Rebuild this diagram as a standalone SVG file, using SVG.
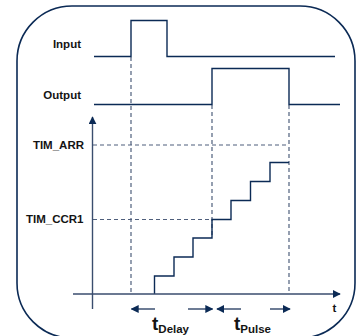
<svg xmlns="http://www.w3.org/2000/svg" width="356" height="336" viewBox="0 0 356 336">
  <style>
    .frame { fill: #ffffff; stroke: #0b2a55; stroke-width: 1.6; }
    .sig { fill: none; stroke: #0b2a55; stroke-width: 1.4; }
    .axis { fill: none; stroke: #3a4d6e; stroke-width: 1.4; }
    .dash { fill: none; stroke: #4f5f7c; stroke-width: 1.2; stroke-dasharray: 4 3; }
    .span { fill: none; stroke: #2f4468; stroke-width: 1.4; }
    .lbl { font-family: "Liberation Sans", Arial, sans-serif; font-weight: bold; fill: #141414; }
  </style>
  <defs>
    <marker id="head" viewBox="0 0 10 10" refX="9" refY="5" markerWidth="8" markerHeight="8" markerUnits="userSpaceOnUse" orient="auto">
      <path d="M0,0 L10,5 L0,10 Z" fill="#0b2a55"/>
    </marker>
  </defs>

  <rect class="frame" x="17" y="6" width="338" height="332" rx="55" ry="55"/>

  <!-- signal labels -->
  <g id="labels">
    <text class="lbl" x="81" y="48.3" font-size="11.5" text-anchor="end">Input</text>
    <text class="lbl" x="81" y="99" font-size="11.5" text-anchor="end">Output</text>
    <text class="lbl" x="84" y="149.3" font-size="11.5" text-anchor="end">TIM_ARR</text>
    <text class="lbl" x="83.5" y="223" font-size="11.5" text-anchor="end">TIM_CCR1</text>
    <text class="lbl" x="334.5" y="312" font-size="11.5" text-anchor="middle">t</text>
    <text class="lbl" x="152" y="330" font-size="19">t<tspan font-size="11.5" dy="3.3">Delay</tspan></text>
    <text class="lbl" x="234" y="330" font-size="19">t<tspan font-size="11.5" dy="3.3">Pulse</tspan></text>
  </g>

  <!-- reference levels and edge markers -->
  <g id="guides">
    <line class="dash" x1="131" y1="57" x2="131" y2="294"/>
    <line class="dash" x1="212" y1="105" x2="212" y2="238"/>
    <line class="dash" x1="289" y1="105" x2="289" y2="294"/>
    <line class="dash" x1="93" y1="145" x2="289" y2="145"/>
    <line class="dash" x1="93" y1="219.5" x2="212" y2="219.5"/>
  </g>

  <!-- input and output waveforms -->
  <g id="input">
    <polyline class="sig" points="94,56.5 131,56.5 131,20.5 167,20.5 167,56.5 335,56.5"/>
  </g>
  <g id="output">
    <polyline class="sig" points="94,104.5 212,104.5 212,68.5 289,68.5 289,104.5 340,104.5"/>
  </g>

  <!-- counter staircase -->
  <g id="counter">
    <polyline class="sig" points="154.5,294 154.5,276 174,276 174,257 193,257 193,238 212,238 212,219.5 231,219.5 231,200.5 250.5,200.5 250.5,181.5 270,181.5 270,162.5 289,162.5"/>
  </g>

  <!-- axes and timing spans -->
  <g id="connectors">
    <line class="axis" x1="92.5" y1="309" x2="92.5" y2="117" marker-end="url(#head)"/>
    <line class="axis" x1="73" y1="294" x2="340" y2="294" marker-end="url(#head)"/>
    <line class="span" x1="155" y1="309" x2="131.5" y2="309" marker-end="url(#head)"/>
    <line class="span" x1="188" y1="309" x2="212.5" y2="309" marker-end="url(#head)"/>
    <line class="span" x1="241" y1="309" x2="217" y2="309" marker-end="url(#head)"/>
    <line class="span" x1="270" y1="309" x2="290" y2="309" marker-end="url(#head)"/>
  </g>
</svg>
